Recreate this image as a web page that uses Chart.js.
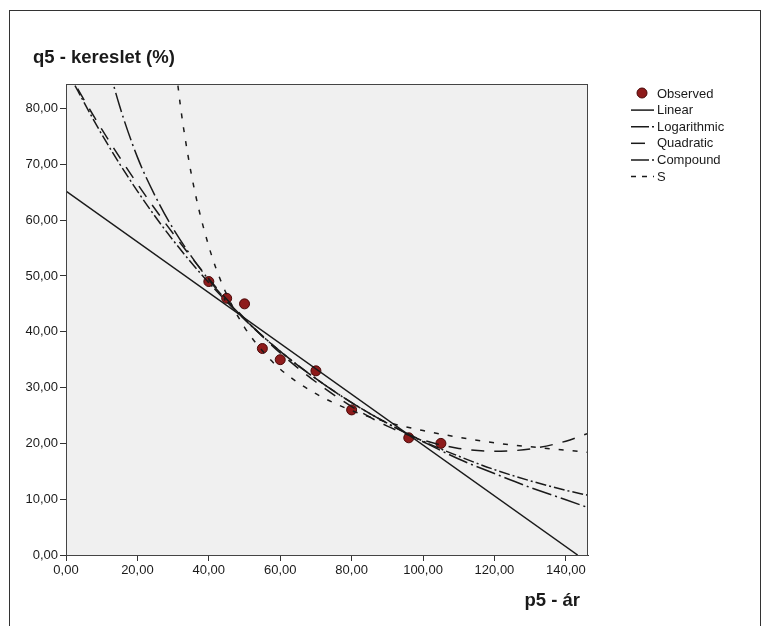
<!DOCTYPE html>
<html>
<head>
<meta charset="utf-8">
<script src="https://cdn.jsdelivr.net/npm/chart.js@4"></script>
<style>
  html, body { margin: 0; background: #fff; }
  #wrap { width: 771px; height: 626px; }
</style>
</head>
<body>
<div id="wrap"><canvas id="chart" width="771" height="626"></canvas></div>
<script>
// values
const observedX = [40, 45, 50, 55, 60, 70, 80, 96, 105];
const observedY = [49, 46, 45, 37, 35, 33, 26, 21, 20];

const linearX = [0, 143.3];
const linearY = [65.2, 0];

const logX = [10, 12, 15, 20, 25, 30, 40, 50, 60, 70, 80, 90, 100, 110, 120, 130, 140, 146.2];
const logY = [93.3, 87.5, 80.5, 71.3, 64.3, 58.5, 49.3, 42.3, 36.5, 31.6, 27.3, 23.6, 20.3, 17.2, 14.6, 12.1, 9.9, 8.5];

const quadX = [0, 10, 20, 30, 40, 50, 60, 70, 80, 90, 100, 110, 120, 130, 140, 146.2];
const quadY = [87.1, 76.3, 66.5, 57.6, 49.5, 42.4, 36.2, 31.0, 26.6, 23.1, 20.6, 19.1, 18.6, 19.0, 20.4, 21.8];

const compX = [0, 10, 20, 30, 40, 50, 60, 70, 80, 90, 100, 110, 120, 130, 140, 146.2];
const compY = [87.1, 75.4, 65.2, 56.4, 48.8, 42.2, 36.5, 31.6, 27.3, 23.6, 20.4, 17.7, 15.3, 13.3, 11.6, 10.7];

const sX = [30, 32, 33, 35, 37, 40, 42, 45, 50, 55, 60, 70, 80, 90, 100, 110, 120, 130, 146.2];
const sY = [91.6, 80.7, 76.2, 68.6, 62.5, 55.3, 51.4, 46.7, 40.8, 36.6, 33.3, 28.9, 25.9, 23.8, 22.3, 21.1, 20.1, 19.4, 18.4];

const yTicks = [0, 10, 20, 30, 40, 50, 60, 70, 80];
const xTicks = [0, 20, 40, 60, 80, 100, 120, 140];

const yTitle = "q5 - kereslet (%)";
const xTitle = "p5 - ár";

const FONT = "'Liberation Sans', Arial, sans-serif";
const INK = "#1a1a1a";

function points(xs, ys) {
  return xs.map((x, i) => ({ x, y: ys[i] }));
}

function fmt(v) {
  return v.toFixed(2).replace(".", ",");
}

function curve(label, xs, ys, dash, legendDash) {
  return {
    label,
    data: points(xs, ys),
    borderColor: INK,
    borderWidth: 1.5,
    borderDash: dash,
    legendDash,
    pointRadius: 0,
    fill: false,
    cubicInterpolationMode: "monotone",
    order: 1,
  };
}

const datasets = [
  {
    label: "Observed",
    data: points(observedX, observedY),
    showLine: false,
    pointRadius: 5,
    pointBackgroundColor: "#8e1b1b",
    pointBorderColor: "#4a0808",
    pointBorderWidth: 1,
    order: 5,
  },
  curve("Linear", linearX, linearY, [], []),
  curve("Logarithmic", logX, logY, [20, 4, 2, 4], [18, 3, 2, 10]),
  curve("Quadratic", quadX, quadY, [13, 10], [14, 20]),
  curve("Compound", compX, compY, [11, 3, 2, 3], [18, 3, 2, 10]),
  curve("S", sX, sY, [5, 9], [5, 6]),
];

// SPSS-like frame, plot background, titles and legend
const decor = {
  id: "decor",
  beforeDraw(chart) {
    const { ctx, chartArea: a } = chart;
    ctx.save();
    ctx.fillStyle = "#fff";
    ctx.fillRect(0, 0, chart.width, chart.height);
    ctx.strokeStyle = "#333";
    ctx.lineWidth = 1;
    ctx.strokeRect(9.5, 10.5, 751, 700);
    ctx.fillStyle = "#f0f0f0";
    ctx.fillRect(a.left, a.top, a.right - a.left, a.bottom - a.top);
    ctx.restore();
  },
  afterDraw(chart) {
    const { ctx, chartArea: a } = chart;
    ctx.save();
    ctx.strokeStyle = "#444";
    ctx.lineWidth = 1;
    ctx.strokeRect(a.left + 0.5, a.top + 0.5, a.right - a.left - 1, a.bottom - a.top);

    ctx.fillStyle = INK;
    ctx.font = "bold 18.5px " + FONT;
    ctx.textBaseline = "middle";
    ctx.textAlign = "left";
    ctx.fillText(yTitle, 33, 58);
    ctx.textAlign = "right";
    ctx.fillText(xTitle, 580, 601);

    // legend
    ctx.font = "13px " + FONT;
    ctx.textAlign = "left";
    let y = 93;
    datasets.forEach((ds) => {
      if (ds.showLine === false) {
        ctx.beginPath();
        ctx.arc(642, y, 5, 0, Math.PI * 2);
        ctx.fillStyle = ds.pointBackgroundColor;
        ctx.fill();
        ctx.strokeStyle = ds.pointBorderColor;
        ctx.setLineDash([]);
        ctx.stroke();
      } else {
        ctx.beginPath();
        ctx.setLineDash(ds.legendDash);
        ctx.strokeStyle = INK;
        ctx.lineWidth = 1.5;
        ctx.moveTo(631, y + 0.5);
        ctx.lineTo(654, y + 0.5);
        ctx.stroke();
      }
      ctx.setLineDash([]);
      ctx.fillStyle = INK;
      ctx.fillText(ds.label, 657, y + 1);
      y += 16.6;
    });
    ctx.restore();
  },
};

const tickFont = { family: FONT, size: 13 };

new Chart(document.getElementById("chart"), {
  type: "line",
  data: { datasets },
  options: {
    responsive: false,
    animation: false,
    devicePixelRatio: 1,
    layout: { padding: { left: 10, top: 84, right: 183, bottom: 41 } },
    plugins: {
      legend: { display: false },
      tooltip: { enabled: false },
    },
    scales: {
      x: {
        type: "linear",
        min: 0,
        max: 146.2,
        afterFit: (scale) => { scale.height = 30; },
        afterBuildTicks: (scale) => { scale.ticks = xTicks.map((v) => ({ value: v })); },
        ticks: { font: tickFont, color: INK, padding: 2, maxRotation: 0, callback: fmt },
        grid: { drawOnChartArea: false, drawTicks: true, tickLength: 6, color: "#333" },
        border: { color: "#333" },
      },
      y: {
        min: 0,
        max: 84.4,
        afterFit: (scale) => { scale.width = 56; },
        afterBuildTicks: (scale) => { scale.ticks = yTicks.map((v) => ({ value: v })); },
        ticks: { font: tickFont, color: INK, padding: 2, callback: fmt },
        grid: { drawOnChartArea: false, drawTicks: true, tickLength: 6, color: "#333" },
        border: { color: "#333" },
      },
    },
  },
  plugins: [decor],
});
</script>
</body>
</html>
